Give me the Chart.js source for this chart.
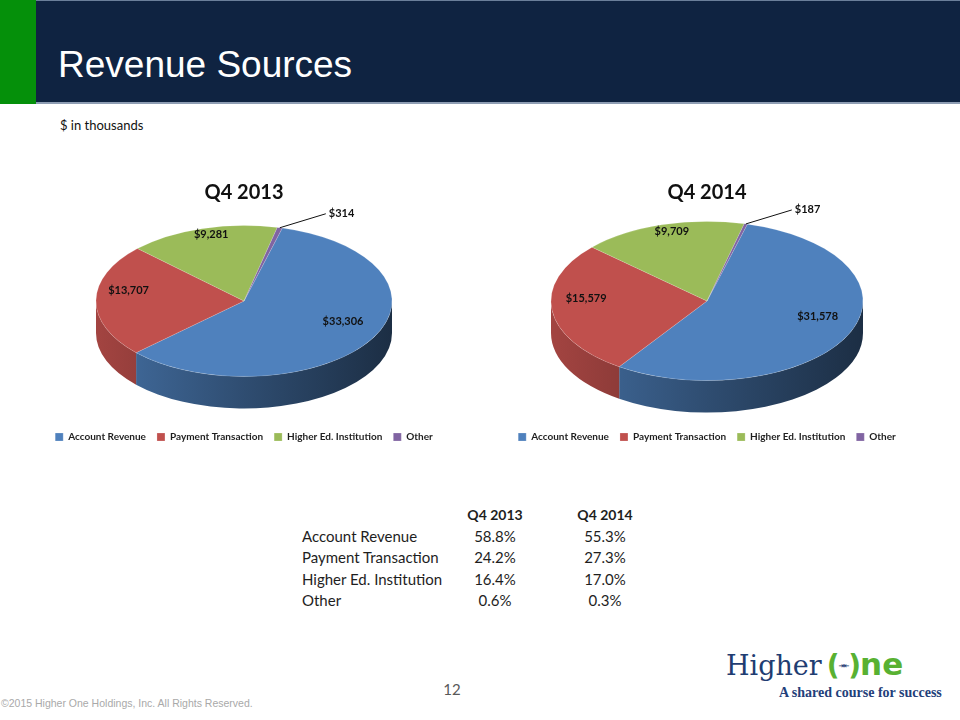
<!DOCTYPE html>
<html>
<head>
<meta charset="utf-8">
<title>Revenue Sources</title>
<script src="https://cdn.jsdelivr.net/npm/chart.js@4.4.4/dist/chart.umd.min.js"></script>
<style>
  html, body { margin: 0; padding: 0; background: #fff; }
  #slide { position: relative; width: 960px; height: 720px; overflow: hidden; font-family: 'Lato', sans-serif; }
  #header { position: absolute; left: 0; top: 0; width: 960px; height: 104px; background: #0f2341;
            border-top: 1px solid #6b7f9a; border-bottom: 2px solid #8e9db3; box-sizing: border-box; }
  #greenBar { position: absolute; left: 0; top: 0; width: 36px; height: 104px; background: #05900a; }
  #title { position: absolute; left: 58px; top: 46px; line-height: 37px; color: #fff;
           font-family: 'Liberation Sans', Arial, sans-serif; font-size: 37px; }
  #units { position: absolute; left: 60px; top: 117px; font-size: 13px; line-height: 16px; color: #111; }
  canvas { position: absolute; }
  .cell { position: absolute; font-size: 15px; line-height: 20px; color: #1e1e1e; white-space: nowrap; }
  .num { width: 80px; margin-left: -40px; text-align: center; }
  .head { font-weight: bold; font-size: 14px; }
  #pageNo { position: absolute; left: 432px; top: 680px; width: 40px; text-align: center;
            font-size: 15px; color: #595959; }
  #footer { position: absolute; left: 1px; top: 697px; font-family: 'Liberation Sans', Arial, sans-serif;
            font-size: 10.5px; color: #a9a9a9; }
  #logo { position: absolute; left: 726px; top: 644px; font-family: 'DejaVu Serif', serif; font-size: 27px;
          line-height: 40px; color: #1f3d72; white-space: nowrap; }
  #logo .one { color: #58b132; font-family: 'DejaVu Sans', sans-serif; font-weight: bold; font-size: 28px;
               margin-left: 5px; }
  #logo .br { letter-spacing: -1px; }
  #logo .mid { color: #1f3d72; font-size: 7px; vertical-align: 7px; letter-spacing: -1px; }
  #logo .ne { font-size: 31px; }
  #tagline { position: absolute; left: 779px; top: 685px; font-family: 'Liberation Serif', serif; font-weight: bold;
             font-size: 14px; color: #23407a; white-space: nowrap; }
</style>
</head>
<body>
<div id="slide">
  <div id="header"></div>
  <div id="greenBar"></div>
  <div id="title">Revenue Sources</div>
  <div id="units">$ in thousands</div>

  <canvas id="pie2013" width="440" height="282" style="left:24px; top:170px;"></canvas>
  <canvas id="pie2014" width="440" height="282" style="left:487px; top:170px;"></canvas>

  <div id="shareTable"></div>

  <div id="pageNo">12</div>
  <div id="footer">©2015 Higher One Holdings, Inc. All Rights Reserved.</div>
  <div id="logo">Higher<span class="one"><span class="br">(</span><span class="mid">⇥⇤</span><span class="br">)</span><span class="ne">ne</span></span></div>
  <div id="tagline">A shared course for success</div>
</div>

<script>
  // ---------------------------------------------------------------------
  // DATA
  // ---------------------------------------------------------------------
  const categories = ['Account Revenue', 'Payment Transaction', 'Higher Ed. Institution', 'Other'];
  const q42013Values = [33306, 13707, 9281, 314];
  const q42014Values = [31578, 15579, 9709, 187];
  const periods = ['Q4 2013', 'Q4 2014'];
  const q42013Shares = ['58.8%', '24.2%', '16.4%', '0.6%'];
  const q42014Shares = ['55.3%', '27.3%', '17.0%', '0.3%'];
  const sliceColors = ['#4F81BD', '#C0504D', '#9BBB59', '#8064A2'];

  function shade(hex, f) {
    const n = parseInt(hex.slice(1), 16);
    const r = Math.round(((n >> 16) & 255) * f);
    const g = Math.round(((n >> 8) & 255) * f);
    const b = Math.round((n & 255) * f);
    return 'rgb(' + r + ',' + g + ',' + b + ')';
  }

  // ---------------------------------------------------------------------
  // 3D PIE PLUGIN: side walls, flattened top face, value labels
  // ---------------------------------------------------------------------
  const pie3dPlugin = {
    id: 'pie3d',
    beforeDatasetsDraw(chart, args, opts) {
      const arcs = chart.getDatasetMeta(0).data;
      if (!arcs.length) return;
      const ctx = chart.ctx;
      const cx = arcs[0].x, cy = opts.centerY, r = arcs[0].outerRadius, ry = r * opts.tilt;
      const colors = chart.data.datasets[0].backgroundColor;

      // front wall, only the visible lower half of the ellipse
      arcs.forEach(function (arc, i) {
        for (let k = -1; k <= 1; k++) {
          const lo = Math.max(arc.startAngle, 2 * Math.PI * k);
          const hi = Math.min(arc.endAngle, 2 * Math.PI * k + Math.PI);
          if (hi <= lo) continue;
          const grad = ctx.createLinearGradient(cx - r, 0, cx + r, 0);
          grad.addColorStop(0, shade(colors[i], 0.85));
          grad.addColorStop(0.5, shade(colors[i], 0.6));
          grad.addColorStop(1, shade(colors[i], 0.36));
          ctx.beginPath();
          ctx.ellipse(cx, cy, r, ry, 0, lo, hi);
          ctx.ellipse(cx, cy + opts.depth, r, ry, 0, hi, lo, true);
          ctx.closePath();
          ctx.fillStyle = grad;
          ctx.fill();
        }
      });

      // squash the circle into the top face
      ctx.save();
      ctx.translate(cx, cy);
      ctx.scale(1, opts.tilt);
      ctx.translate(-cx, -arcs[0].y);
    },
    afterDatasetsDraw(chart, args, opts) {
      const arcs = chart.getDatasetMeta(0).data;
      if (!arcs.length) return;
      const ctx = chart.ctx;
      ctx.restore();

      const cx = arcs[0].x, cy = opts.centerY, r = arcs[0].outerRadius, ry = r * opts.tilt;
      const values = chart.data.datasets[0].data;

      ctx.save();
      ctx.textBaseline = 'middle';
      ctx.fillStyle = '#111';
      ctx.strokeStyle = '#111';
      ctx.lineWidth = 1;
      ctx.font = 'bold 11px Lato';
      arcs.forEach(function (arc, i) {
        const mid = (arc.startAngle + arc.endAngle) / 2;
        const share = (arc.endAngle - arc.startAngle) / (2 * Math.PI);
        const text = '$' + values[i].toLocaleString('en-US');
        if (share < opts.outsideBelow) {
          const ex = cx + r * Math.cos(mid), ey = cy + ry * Math.sin(mid);
          const lx = ex + opts.leader[0], ly = ey + opts.leader[1];
          ctx.beginPath();
          ctx.moveTo(ex, ey);
          ctx.lineTo(lx, ly);
          ctx.stroke();
          ctx.textAlign = 'left';
          ctx.fillText(text, lx + 3, ly);
        } else {
          const x = cx + r * opts.labelRadius * Math.cos(mid);
          const y = cy + ry * opts.labelRadius * Math.sin(mid) + opts.labelShiftY;
          ctx.textAlign = 'center';
          ctx.fillText(text, x, y);
        }
      });
      ctx.restore();
    }
  };

  function makePie(canvasId, title, values, radius) {
    return new Chart(document.getElementById(canvasId), {
      type: 'pie',
      data: {
        labels: categories,
        datasets: [{
          data: values,
          backgroundColor: sliceColors,
          borderColor: 'rgba(255,255,255,0.35)',
          borderWidth: 0.6,
          radius: radius,
          rotation: 15,
          clip: false
        }]
      },
      options: {
        responsive: false,
        animation: false,
        events: [],
        plugins: {
          title: {
            display: true,
            text: title,
            color: '#111',
            font: { family: 'Lato', size: 20, weight: 'bold' },
            padding: { top: 11, bottom: 4 }
          },
          legend: {
            position: 'bottom',
            labels: {
              boxWidth: 8,
              boxHeight: 8,
              padding: 11,
              color: '#1f1f1f',
              font: { family: 'Lato', size: 10, weight: 'bold' }
            }
          },
          tooltip: { enabled: false },
          pie3d: {
            centerY: 131,
            tilt: 0.51,
            depth: 32,
            labelRadius: 0.78,
            labelShiftY: -10,
            outsideBelow: 0.02,
            leader: [46, -14]
          }
        }
      },
      plugins: [pie3dPlugin]
    });
  }

  makePie('pie2013', periods[0], q42013Values, 148);
  makePie('pie2014', periods[1], q42014Values, 156);

  // ---------------------------------------------------------------------
  // SHARE TABLE
  // ---------------------------------------------------------------------
  (function () {
    const table = document.getElementById('shareTable');
    const colX = [495, 605];
    const rowY = [526, 547, 569, 590];
    periods.forEach(function (p, c) {
      const d = document.createElement('div');
      d.className = 'cell num head';
      d.style.left = colX[c] + 'px';
      d.style.top = '505px';
      d.textContent = p;
      table.appendChild(d);
    });
    categories.forEach(function (name, r) {
      const lab = document.createElement('div');
      lab.className = 'cell';
      lab.style.left = '302px';
      lab.style.top = rowY[r] + 'px';
      lab.textContent = name;
      table.appendChild(lab);
      [q42013Shares, q42014Shares].forEach(function (col, c) {
        const d = document.createElement('div');
        d.className = 'cell num';
        d.style.left = colX[c] + 'px';
        d.style.top = rowY[r] + 'px';
        d.textContent = col[r];
        table.appendChild(d);
      });
    });
  })();
</script>
</body>
</html>
